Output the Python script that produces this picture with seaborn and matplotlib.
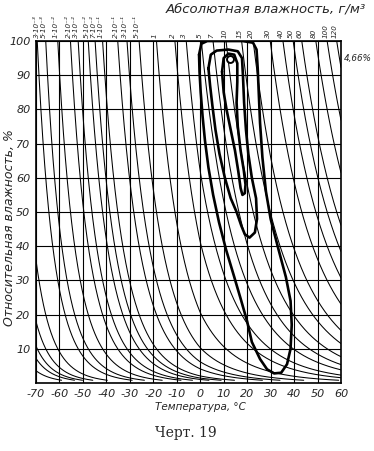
import numpy as np
import pandas as pd
import matplotlib
matplotlib.use("Agg")
import matplotlib.pyplot as plt
import seaborn as sns

# absolute humidity levels (g/m3) labelled along the top edge
levels = [3e-3, 5e-3, 1e-2, 2e-2, 3e-2, 5e-2, 7e-2, 1e-1, 2e-1, 3e-1, 5e-1,
          1, 2, 3, 5, 7, 10, 15, 20, 30, 40, 50, 60, 80, 100, 120]
level_labels = ["3·10⁻³", "5·10⁻³", "1·10⁻²", "2·10⁻²", "3·10⁻²", "5·10⁻²",
                "7·10⁻²", "1·10⁻¹", "2·10⁻¹", "3·10⁻¹", "5·10⁻¹",
                "1", "2", "3", "5", "7", "10", "15", "20", "30", "40", "50",
                "60", "80", "100", "120"]
# unlabelled curves entering from the left edge near the bottom
extra_levels = [1e-4, 2e-4, 3e-4, 5e-4, 1e-3]

# thick closed contours (temperature, relative humidity)
outer_t = [-0.5, 0.5, 3, 10, 18, 22.5, 24, 24.5, 25, 25.5, 26.5, 28, 30, 33, 36.5,
           38.5, 39, 38.5, 37, 34.5, 31.5, 28.5, 25.5, 22, 20, 17.5, 14.5, 11, 8,
           5.5, 3.5, 2, 1, 0.2, -0.3, -0.5]
outer_rh = [96, 99.2, 100, 100, 100, 99.5, 97.5, 92, 84, 76, 66, 56, 48, 40, 31,
            24, 17, 10, 5.5, 3, 2.8, 4, 7, 12, 18, 24, 31, 39, 47,
            55, 63, 71, 78, 85, 91, 96]
middle_t = [3.5, 4.5, 7, 12, 16, 17.8, 18.2, 18.7, 19.5, 20.5, 22, 23.8, 24.2, 23.3,
            21, 19, 17.5, 15.5, 13, 10.5, 8.2, 6.5, 5.2, 4.2, 3.5]
middle_rh = [92, 96, 97.2, 97.5, 97, 95, 90, 82, 74, 67, 60, 54, 48, 44,
             42.5, 43.5, 46, 50, 54, 60, 67, 74, 81, 87, 92]
inner_t = [9.3, 10, 12, 14.5, 15.8, 15.8, 15.5, 16, 17.2, 18.6, 19.3, 19, 18, 17.2,
           16.2, 14.8, 13, 11.2, 10, 9.3]
inner_rh = [91, 95, 96.3, 96, 93.5, 88, 82, 75, 68, 62, 58, 55.5, 55, 57,
            62, 68, 74, 80, 85, 91]
peak_t, peak_rh = 12.9, 94.7
peak_label = "4,66%"


def sat_density(t):
    # saturation vapour density, g/m3 (over ice below 0 C)
    t = np.asarray(t, dtype=float)
    e = np.where(t < 0, 6.112 * np.exp(22.46 * t / (272.62 + t)),
                 6.112 * np.exp(17.62 * t / (243.12 + t)))
    return 216.7 * e / (t + 273.15)


grid_t = np.linspace(-90, 70, 16001)
log_sat = np.log(sat_density(grid_t))


def dew_point(a):
    return float(np.interp(np.log(a), log_sat, grid_t))


rows = []
for lvl in extra_levels + levels:
    t0 = max(dew_point(lvl), -70)
    t = np.concatenate([[t0], np.arange(np.ceil(t0 * 10) / 10, 60.001, 0.1)])
    rh = 100 * lvl / sat_density(t)
    # the drawn curves stop just above the bottom frame
    ok = (rh <= 100.001) & (rh >= 0.8)
    rows.append(pd.DataFrame({"t": t[ok], "rh": rh[ok], "level": lvl}))
curves = pd.concat(rows, ignore_index=True)

sns.set_style("white")
plt.rcParams["font.family"] = ["DejaVu Sans"]

fig = plt.figure(figsize=(3.74, 4.51), dpi=100)
ax = fig.add_axes([36 / 374, 1 - 383 / 451, 305 / 374, 342 / 451])

sns.lineplot(data=curves, x="t", y="rh", units="level", estimator=None,
             sort=False, color="black", lw=0.75, legend=False, ax=ax)

for xs, ys in [(outer_t, outer_rh), (middle_t, middle_rh), (inner_t, inner_rh)]:
    sns.lineplot(x=xs, y=ys, sort=False, estimator=None, color="black", lw=1.9, ax=ax)
ax.plot([peak_t], [peak_rh], "o", ms=5, mfc="white", mec="black", mew=1.4)

ax.set_xlim(-70, 60)
ax.set_ylim(0, 100)
ax.set_xticks(range(-70, 61, 10))
ax.set_yticks(range(0, 101, 10))
ax.set_xticklabels([str(v) for v in range(-70, 61, 10)], style="italic", fontsize=8)
ax.set_yticklabels([""] + [str(v) for v in range(10, 101, 10)], style="italic", fontsize=8)
ax.tick_params(length=0, pad=4)
ax.grid(True, color="black", lw=0.8)
ax.set_xlabel("")
ax.set_ylabel("")
for sp in ax.spines.values():
    sp.set_color("black")
    sp.set_linewidth(1.2)

top = ax.secondary_xaxis("top")
top.set_xticks([max(dew_point(v) - 0.8, -69.7) for v in levels])
top.set_xticklabels(level_labels, rotation=90, fontsize=5.2, style="italic")
top.tick_params(length=0, pad=2)
top.spines["top"].set_visible(False)

fig.text(266 / 374, 1 - 9 / 451, "Абсолютная влажность, г/м³", style="italic",
         fontsize=9.5, ha="center", va="center")
fig.text(344 / 374, 1 - 58 / 451, peak_label, style="italic", fontsize=6.3,
         ha="left", va="center")
fig.text(200 / 374, 1 - 407 / 451, "Температура, °C", style="italic", fontsize=7.5,
         ha="center", va="center")
fig.text(10 / 374, 1 - 228 / 451, "Относительная влажность, %", style="italic",
         fontsize=9, rotation=90, ha="center", va="center")
fig.text(186 / 374, 1 - 433 / 451, "Черт. 19", family="DejaVu Serif", fontsize=10,
         ha="center", va="center")

fig.savefig("out.png", dpi=100)
